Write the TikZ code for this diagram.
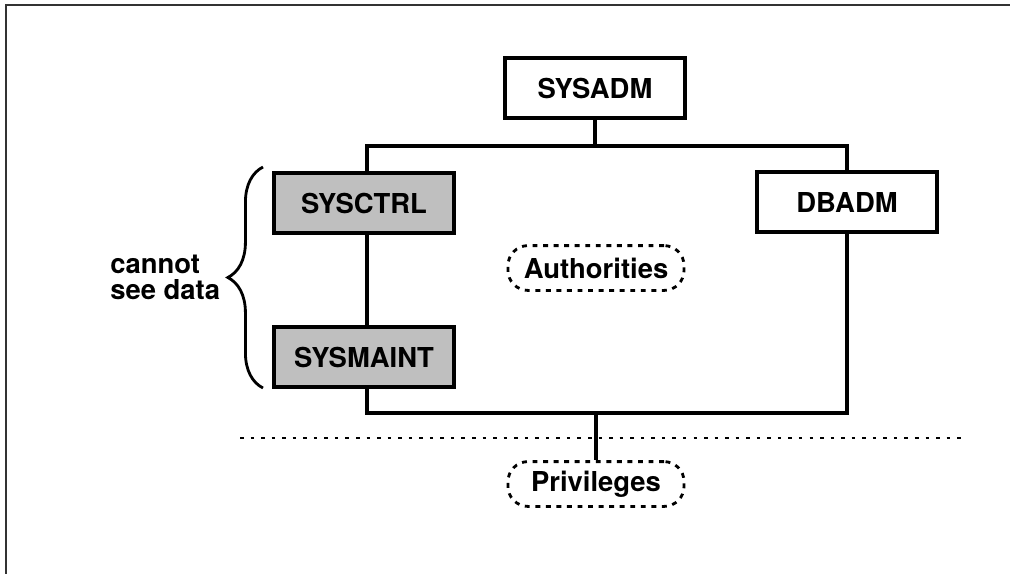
\documentclass[tikz,border=0pt]{standalone}
\usepackage{fontspec}
\setmainfont{TeX Gyre Heros}
\usetikzlibrary{decorations.pathreplacing}

\tikzset{
  authbox/.style={draw,line width=2.2pt,minimum width=4.5cm,minimum height=1.5cm,
    inner sep=0pt,font=\fontsize{19.5}{22}\selectfont\bfseries},
  shadedbox/.style={authbox,fill=black!25},
  groupbox/.style={draw,line width=2pt,dash pattern=on 3.5pt off 4pt,rounded corners=0.5cm,
    minimum width=4.4cm,minimum height=1.12cm,inner sep=0pt,font=\fontsize{19.5}{22}\selectfont\bfseries},
  link/.style={line width=2.6pt}
}

\begin{document}
\begin{tikzpicture}[x=0.025cm,y=-0.025cm]
\useasboundingbox (0,0) rectangle (1010,574);
% frame
\draw[line width=1.4pt,black!80] (1010,5) -- (6,5) -- (6,574);

% corners of the authority loop
\coordinate (tl) at (367,146);
\coordinate (tr) at (847,146);
\coordinate (bl) at (367,413);
\coordinate (br) at (847,413);

\node[authbox] (sysadm) at (595,88) {SYSADM};
\node[shadedbox] (sysctrl) at (364,203) {SYSCTRL};
\node[shadedbox] (sysmaint) at (364,357) {SYSMAINT};
\node[authbox] (dbadm) at (847,202) {DBADM};
\node[groupbox] (auth) at (596,268) {Authorities};
\node[groupbox] (priv) at (596,484) {Privileges};

\draw[link] (sysadm.south) -- (sysadm.south |- tl);
\draw[link] (tl |- sysctrl.north) -- (tl) -- (tr) -- (dbadm.north);
\draw[link] (tl |- sysctrl.south) -- (tl |- sysmaint.north);
\draw[link] (tl |- sysmaint.south) -- (bl) -- (br) -- (dbadm.south);
\draw[link] (priv.north |- bl) -- (priv.north);

% privileges boundary
\coordinate (dl) at (240,438);
\coordinate (dr) at (965,438);
\draw[line width=2pt,dash pattern=on 2.5pt off 5pt] (dl) -- (dr);

% brace over the two system boxes
\coordinate (bb) at (263,388);
\coordinate (bt) at (263,167);
\draw[line width=2pt,decorate,decoration={brace,amplitude=25pt}] (bb) -- (bt);
\node[anchor=west,align=left,inner sep=0pt,font=\fontsize{19.5}{18.5}\selectfont\bfseries]
  (nodata) at (110,277) {cannot\\see data};
\end{tikzpicture}
\end{document}
